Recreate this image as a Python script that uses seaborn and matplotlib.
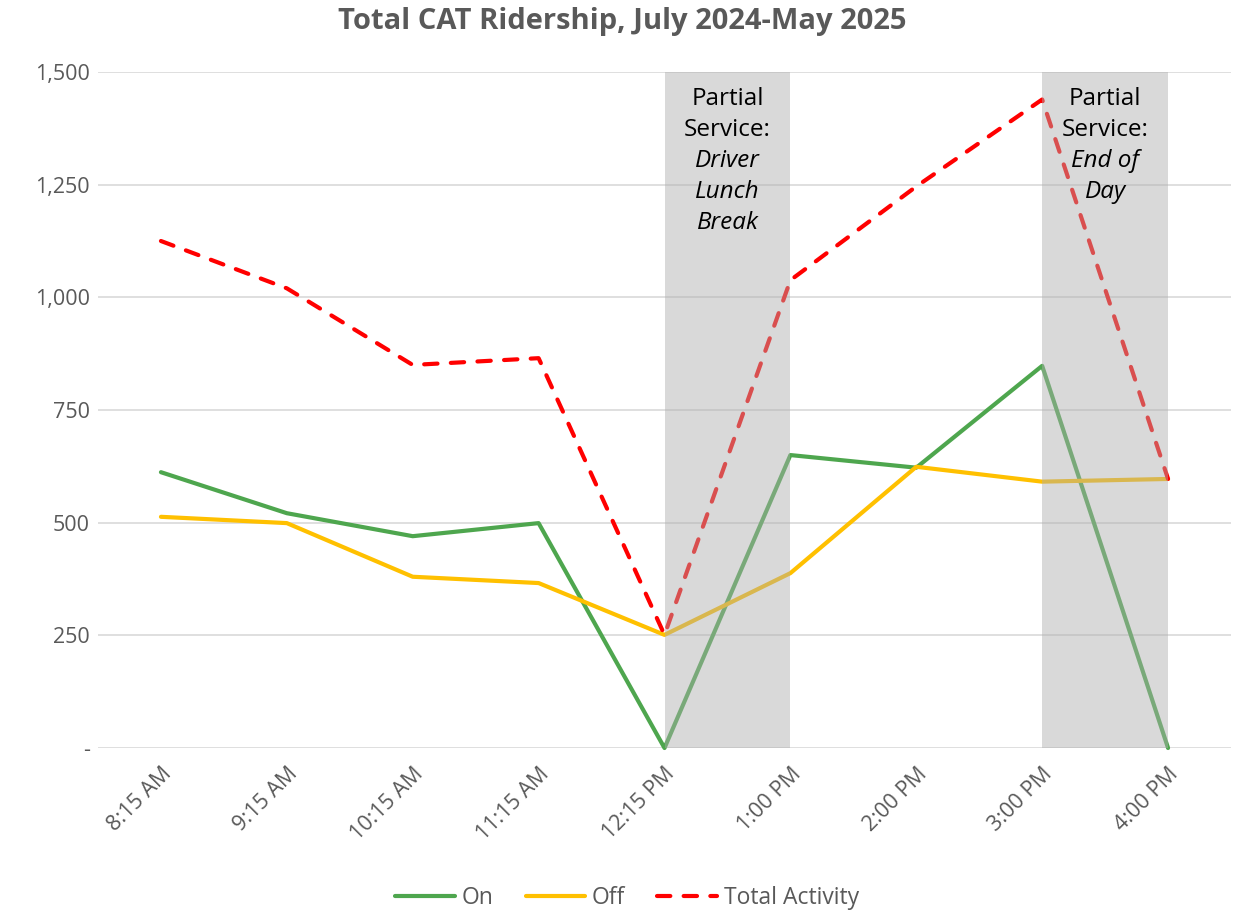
import matplotlib
matplotlib.use("Agg")
import matplotlib.pyplot as plt
import seaborn as sns
import numpy as np
import pandas as pd
from matplotlib.ticker import FuncFormatter

# ---- data ----
times = ["8:15 AM", "9:15 AM", "10:15 AM", "11:15 AM", "12:15 PM",
         "1:00 PM", "2:00 PM", "3:00 PM", "4:00 PM"]
on_vals = [612, 521, 470, 499, 0, 650, 622, 848, 0]
off_vals = [513, 499, 380, 366, 251, 388, 624, 591, 597]
total_vals = [1125, 1020, 850, 865, 251, 1038, 1246, 1439, 597]
yticks = [0, 250, 500, 750, 1000, 1250, 1500]
shade_spans = [(4, 5), (7, 8)]
notes_plain = [["Partial", "Service:"], ["Partial", "Service:"]]
notes_ital = [["Driver", "Lunch", "Break"], ["End of", "Day"]]
title = "Total CAT Ridership, July 2024-May 2025"

sns.set_theme(style="white")
plt.rcParams["font.family"] = ["Open Sans", "DejaVu Sans"]

W, H = 1237, 913
fig = plt.figure(figsize=(W / 100, H / 100), dpi=100)
ax = fig.add_axes([98 / W, 1 - 748 / H, (1231 - 98) / W, (748 - 72) / H])

idx = list(range(len(times)))
df = pd.DataFrame({"pos": idx, "On": on_vals, "Off": off_vals, "Total Activity": total_vals})

gray_txt = "#595959"
sns.lineplot(data=df, x="pos", y="On", ax=ax, color="#4ea64e", lw=3, label="On",
             solid_capstyle="round", zorder=3, clip_on=False)
sns.lineplot(data=df, x="pos", y="Off", ax=ax, color="#ffc000", lw=3, label="Off",
             solid_capstyle="round", zorder=3, clip_on=False)
sns.lineplot(data=df, x="pos", y="Total Activity", ax=ax, color="#ff0000", lw=3,
             label="Total Activity", zorder=3, clip_on=False)
tl = ax.get_lines()[2]
tl.set_dashes((3.2, 3.2))
tl.set_dash_capstyle("round")

for (a, b) in shade_spans:
    ax.axvspan(a, b, ymin=0, ymax=1.0, color="#aeaeae", alpha=0.46, lw=0, zorder=4)

line_step = 69
for (a, b), pl, it in zip(shade_spans, notes_plain, notes_ital):
    xc = (a + b) / 2
    y = 1440
    for s in pl:
        ax.text(xc, y, s, ha="center", va="center", fontsize=17.5, color="black", zorder=5)
        y -= line_step
    for s in it:
        ax.text(xc, y, s, ha="center", va="center", fontsize=17.5, color="black",
                style="italic", zorder=5)
        y -= line_step

ax.set_xlim(-0.5, len(times) - 0.5)
ax.set_ylim(0, 1500)
ax.set_yticks(yticks)
ax.yaxis.set_major_formatter(FuncFormatter(lambda v, p: "-" if v == 0 else f"{int(v):,}"))
ax.set_xticks(idx)
ax.set_xticklabels(times, rotation=45, ha="right", rotation_mode="anchor")
ax.tick_params(axis="both", colors=gray_txt, labelsize=15.5, length=0)
ax.tick_params(axis="x", pad=11)
ax.tick_params(axis="y", pad=6)
ax.grid(axis="y", color="#d9d9d9", lw=1.2, zorder=0)
ax.grid(axis="x", visible=False)
ax.set_xlabel("")
ax.set_ylabel("")
for s in ax.spines.values():
    s.set_visible(False)

fig.suptitle(title, x=622 / W, y=1 - 22 / H, va="center", fontsize=21,
             fontweight="bold", color=gray_txt)

handles, labels = ax.get_legend_handles_labels()
leg = ax.legend(handles, labels, loc="center", bbox_to_anchor=(627 / W, 1 - 898 / H),
                bbox_transform=fig.transFigure, ncol=3, frameon=False, fontsize=16.5,
                handlelength=2.6, columnspacing=1.4, handletextpad=0.3)
for t in leg.get_texts():
    t.set_color(gray_txt)

fig.savefig("out.png", dpi=100)
